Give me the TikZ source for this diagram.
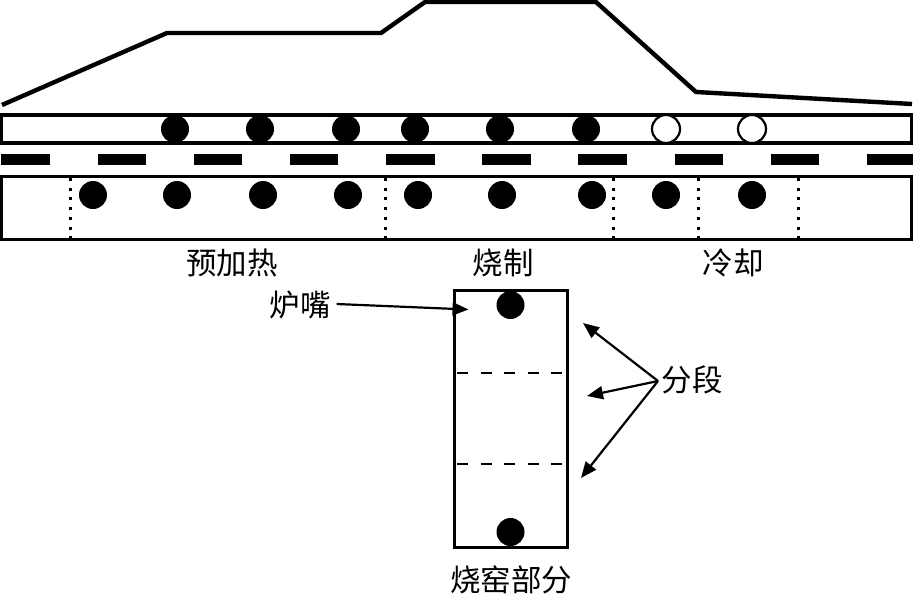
\documentclass[tikz,border=0pt]{standalone}
\usepackage{fontspec}
\newfontfamily\cjk{Noto Sans CJK SC}
\usetikzlibrary{arrows.meta}
\tikzset{
  burner/.style={circle,fill=black,draw=none,minimum size=28pt,inner sep=0pt},
  coolburner/.style={circle,fill=white,draw=black,line width=2.2pt,minimum size=28pt,inner sep=0pt},
  bar/.style={fill=black,draw=none},
  kilnbox/.style={draw=black,line width=3pt,fill=none},
  zoneline/.style={line width=3pt,dash pattern=on 3pt off 6.7pt},
  sectionline/.style={line width=2pt,dash pattern=on 11pt off 12.5pt},
  curve/.style={line width=4.4pt,miter limit=10},
  caption/.style={font=\cjk\fontsize{30.5}{30.5}\selectfont,inner sep=0pt,text=black},
  pointer/.style={line width=2.2pt,-{Triangle[length=16pt,width=13pt]}}
}
\begin{document}
\begin{tikzpicture}[x=1pt,y=-1pt]
\useasboundingbox (0,0) rectangle (913,595);
% firing temperature profile
\draw[curve] (2,105) -- (167,33) -- (381,33) -- (425,2) -- (596,2) -- (696,92) -- (912,104);
% upper duct and its burners
\draw[kilnbox,line width=3.6pt] (1.5,115) rectangle (911.5,143);
\foreach \n/\x in {a/175,b/260,c/346,d/415,e/500,f/586}
  \node[burner] (top\n) at (\x,129) {};
\foreach \n/\x in {g/666,h/752}
  \node[coolburner] (top\n) at (\x,129) {};
% separating bars
\foreach \a/\b in {1/50,98/146,194/242,290/338,386/435,482/531,578/627,675/723,771/819,867/913}
  \fill[bar] (\a,154) rectangle (\b,164.5);
% lower duct, zone limits and burners
\draw[kilnbox] (1.5,176.5) rectangle (911.5,239);
\foreach \x in {70,385,613,698,798}
  \draw[zoneline] (\x,178) -- (\x,238);
\foreach \n/\x in {a/93,b/177,c/263,d/348,e/418,f/502,g/592,h/666,i/752}
  \node[burner] (low\n) at (\x,195) {};
% zone names
\node[caption] (preheat) at (232,263) {预加热};
\node[caption] (firing) at (503,263) {烧制};
\node[caption] (cooling) at (733,263) {冷却};
% kiln section
\draw[kilnbox] (454.5,290) rectangle (567,547);
\node[burner] (secTop) at (510.5,305) {};
\node[burner] (secBot) at (510.5,532) {};
\draw[sectionline] (457,372.5) -- (565,372.5);
\draw[sectionline] (457,463.5) -- (565,463.5);
\node[caption] (section) at (511,580) {烧窑部分};
% burner callout
\node[caption] (nozzle) at (300,305) {炉嘴};
\coordinate (nozzleTip) at (468.5,309.5);
\draw[pointer] ([xshift=6pt,yshift=1pt]nozzle.east) -- (nozzleTip);
% segment callouts
\node[caption] (segments) at (692,380) {分段};
\coordinate (hub) at (658,381);
\coordinate (tipA) at (583,323);
\coordinate (tipB) at (587,396);
\coordinate (tipC) at (581,478);
\draw[pointer] (hub) -- (tipA);
\draw[pointer] (hub) -- (tipB);
\draw[pointer] (hub) -- (tipC);
\end{tikzpicture}
\end{document}
